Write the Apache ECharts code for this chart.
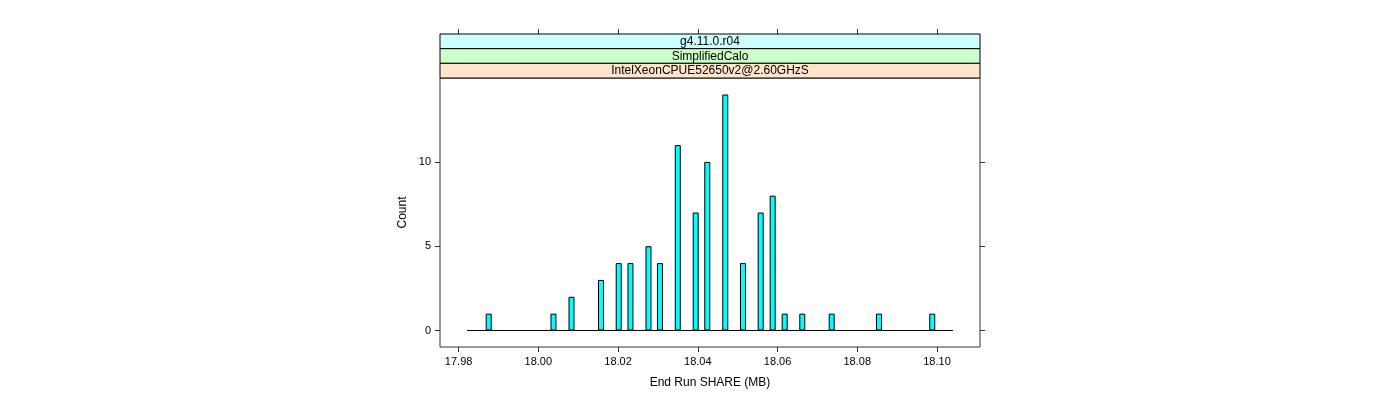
<!DOCTYPE html>
<html><head><meta charset="utf-8">
<script src="https://cdn.jsdelivr.net/npm/echarts@6/dist/echarts.min.js"></script>
<style>html,body{margin:0;padding:0;background:#fff}#c{width:1400px;height:400px}</style>
</head><body><div id="c"></div>
<script>
// Data
const binCenters = [17.98755, 18.00380, 18.00832, 18.01572, 18.02016, 18.02311, 18.02763, 18.03051, 18.03498, 18.03947, 18.04238, 18.04689, 18.05133, 18.05577, 18.05878, 18.06179, 18.06621, 18.07358, 18.08544, 18.09881];
const counts     = [1, 1, 2, 3, 4, 4, 5, 4, 11, 7, 10, 14, 4, 7, 8, 1, 1, 1, 1, 1];
const baselineRange = [17.9821, 18.1040];
const xTicks = [17.98, 18.00, 18.02, 18.04, 18.06, 18.08, 18.10];
const yTicks = [0, 5, 10];
const stripLabels = ['g4.11.0.r04', 'SimplifiedCalo', 'IntelXeonCPUE52650v2@2.60GHzS'];
const stripColors = ['#CCFFFF', '#CCFFCC', '#FFE5CC'];

const FONT = 'Liberation Sans';
const AX = '#333';
const chart = echarts.init(document.getElementById('c'), null, {renderer: 'canvas'});

const gl = 440, gr = 980, gt = 78, gb = 347, stripTop = 34;
const stripH = (gt - stripTop) / stripLabels.length;

const graphics = [];
stripLabels.forEach((lab, i) => {
  graphics.push({
    type: 'rect', z: 10,
    shape: {x: gl, y: stripTop + i * stripH, width: gr - gl, height: stripH},
    style: {fill: stripColors[i], stroke: '#000', lineWidth: 1}
  });
  graphics.push({
    type: 'text', z: 11,
    style: {text: lab, x: (gl + gr) / 2, y: stripTop + i * stripH + stripH / 2 + 0.5,
      textAlign: 'center', textVerticalAlign: 'middle', font: '12px "' + FONT + '"', fill: '#000'}
  });
});

const xmin = 17.98 - 18.6 / 3987, xmax = 18.10 + 43 / 3987;
const baseAxis = {
  type: 'value', min: xmin, max: xmax, splitLine: {show: false},
  axisLine: {show: false, onZero: false}
};

chart.setOption({
  animation: false,
  grid: {left: gl, right: 1400 - gr, top: gt, bottom: 400 - gb, show: true, borderColor: AX, borderWidth: 1, containLabel: false},
  graphic: graphics,
  xAxis: [
    Object.assign({}, baseAxis, {
      position: 'bottom',
      name: 'End Run SHARE (MB)', nameLocation: 'middle', nameGap: 30,
      nameTextStyle: {fontFamily: FONT, fontSize: 12, color: '#000'},
      axisTick: {show: true, inside: false, length: 5, lineStyle: {color: AX}, customValues: xTicks},
      axisLabel: {show: true, margin: 9, fontFamily: FONT, fontSize: 11, color: '#000', customValues: xTicks,
        formatter: v => v.toFixed(2)}
    }),
    Object.assign({}, baseAxis, {
      position: 'top', offset: gt - stripTop,
      axisTick: {show: true, inside: false, length: 5, lineStyle: {color: AX}, customValues: xTicks},
      axisLabel: {show: false}
    })
  ],
  yAxis: [
    {
      type: 'value', min: -0.98, max: 14.98, position: 'left', splitLine: {show: false},
      axisLine: {show: false, onZero: false},
      name: 'Count', nameLocation: 'middle', nameGap: 31, nameRotate: 90,
      nameTextStyle: {fontFamily: FONT, fontSize: 12, color: '#000'},
      axisTick: {show: true, inside: false, length: 5, lineStyle: {color: AX}, customValues: yTicks},
      axisLabel: {show: true, margin: 9, fontFamily: FONT, fontSize: 11, color: '#000', customValues: yTicks}
    },
    {
      type: 'value', min: -0.98, max: 14.98, position: 'right', splitLine: {show: false},
      axisLine: {show: false, onZero: false},
      axisTick: {show: true, inside: false, length: 5, lineStyle: {color: AX}, customValues: yTicks},
      axisLabel: {show: false}
    }
  ],
  series: [
    {
      type: 'bar', xAxisIndex: 0, yAxisIndex: 0, barWidth: 6,
      data: binCenters.map((x, i) => [x, counts[i]]),
      itemStyle: {color: '#00FFFF', borderColor: '#000', borderWidth: 1},
      z: 2
    },
    {
      type: 'line', xAxisIndex: 0, yAxisIndex: 0, symbol: 'none', silent: true,
      data: baselineRange.map(x => [x, 0]),
      lineStyle: {color: '#000', width: 1}, z: 3
    }
  ]
});
</script></body></html>
